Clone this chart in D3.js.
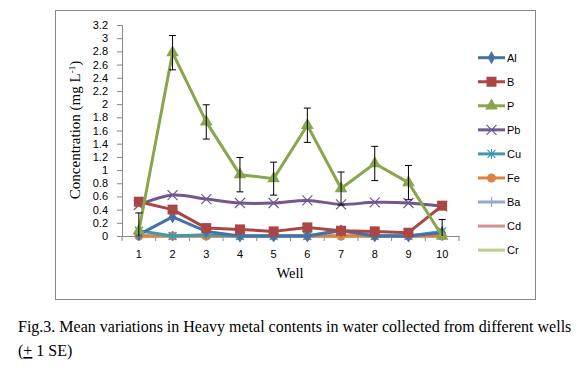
<!DOCTYPE html>
<html><head><meta charset="utf-8">
<script src="https://cdn.jsdelivr.net/npm/d3@7/dist/d3.min.js"></script>
<style>body{margin:0;background:#fff;} svg{display:block;}</style>
</head><body>
<script>
const wells = ["1","2","3","4","5","6","7","8","9","10"];
const seriesNames = ["Al","B","P","Pb","Cu","Fe","Ba","Cd","Cr"];
const Al = [0.02,0.29,0.07,0.0,0.0,0.0,0.08,0.0,0.0,0.05];
const B  = [0.52,0.40,0.12,0.10,0.07,0.13,0.08,0.07,0.05,0.46];
const P  = [0.08,2.78,1.73,0.93,0.87,1.68,0.72,1.10,0.81,0.0];
const Pb = [0.47,0.62,0.56,0.50,0.50,0.54,0.48,0.51,0.50,0.45];
const Cu = [0.08,0.0,0.02,0.0,0.0,0.0,0.09,0.0,0.0,0.07];
const Fe = [0,0,0,0,0,0,0,0,0,0];
const Ba = [0,0,0,0,0,0,0,0,0,0];
const Cd = [0,0,0,0,0,0,0,0,0,0];
const Cr = [0,0,0,0,0,0,0,0,0,0];
const P_se = [0.27,0.26,0.26,0.26,0.25,0.26,0.25,0.26,0.26,0.25];
const yTicks = d3.range(0,3.21,0.2).map(v=>+v.toFixed(1));

const values = {Al,B,P,Pb,Cu,Fe,Ba,Cd,Cr};
const colors = {Al:"#4572A7",B:"#AA4643",P:"#89A54E",Pb:"#71588F",Cu:"#4198AF",Fe:"#DB843D",Ba:"#93A9CF",Cd:"#D19392",Cr:"#B9CD96"};
const markers = {Al:"diamond",B:"square",P:"triangle",Pb:"x",Cu:"star",Fe:"circle",Ba:"plus",Cd:"none",Cr:"none"};

const W=587,H=370;
const svg=d3.select("body").append("svg").attr("width",W).attr("height",H);
svg.append("rect").attr("x",55.5).attr("y",10.5).attr("width",480).attr("height",289).attr("fill","#fff").attr("stroke","#888");

const x=d3.scaleBand().domain(wells).range([122,459]);
const y=d3.scaleLinear().domain([0,3.2]).range([236,25]);
const cx=d=>x(d)+x.bandwidth()/2;

const ya=svg.append("g").attr("transform","translate(122,0)")
  .call(d3.axisLeft(y).tickValues(yTicks).tickSize(5).tickPadding(9).tickFormat(d=>d3.format("~g")(d)));
const xa=svg.append("g").attr("transform","translate(0,236)")
  .call(d3.axisBottom(x).tickSize(0).tickPadding(14));
xa.selectAll(".tick").append("line").attr("x1",x.bandwidth()/2).attr("x2",x.bandwidth()/2).attr("y1",0).attr("y2",5).attr("stroke","#888");
xa.append("line").attr("x1",122).attr("x2",122).attr("y1",0).attr("y2",5).attr("stroke","#888");
[ya,xa].forEach(g=>{
  g.selectAll(".domain").attr("stroke","#888");
  g.selectAll(".tick line").attr("stroke","#888");
  g.selectAll("text").attr("font-family","'Liberation Sans',Arial,sans-serif").attr("font-size","11px").attr("fill","#000");
});

svg.append("text").attr("x",290).attr("y",278).attr("text-anchor","middle")
  .attr("font-family","'Liberation Serif',serif").attr("font-size","14.5px").text("Well");
const yl=svg.append("text").attr("transform","translate(80,130) rotate(-90)").attr("text-anchor","middle")
  .attr("font-family","'Liberation Serif',serif").attr("font-size","15px");
yl.append("tspan").text("Concentration (mg L");
yl.append("tspan").attr("dy",-5).attr("font-size","9px").text("-1");
yl.append("tspan").attr("dy",5).text(")");

function drawMarker(g,type,color,px,py){
  if(type==="diamond") g.append("path").attr("d",d3.symbol(d3.symbolDiamond,50)()).attr("transform",`translate(${px},${py})`).attr("fill",color);
  else if(type==="square") g.append("rect").attr("x",px-5).attr("y",py-5).attr("width",10).attr("height",10).attr("fill",color);
  else if(type==="triangle") g.append("path").attr("d",d3.symbol(d3.symbolTriangle,70)()).attr("transform",`translate(${px},${py})`).attr("fill",color);
  else if(type==="circle") g.append("circle").attr("cx",px).attr("cy",py).attr("r",4.5).attr("fill",color);
  else if(type==="x") g.append("path").attr("d",`M${px-5},${py-5}L${px+5},${py+5}M${px-5},${py+5}L${px+5},${py-5}`).attr("stroke",color).attr("stroke-width",1.2);
  else if(type==="star") g.append("path").attr("d",`M${px-4},${py-4}L${px+4},${py+4}M${px-4},${py+4}L${px+4},${py-4}M${px},${py-5}L${px},${py+5}`).attr("stroke",color).attr("stroke-width",1.2);
  else if(type==="plus") g.append("path").attr("d",`M${px},${py-5}L${px},${py+5}`).attr("stroke",color).attr("stroke-width",1.2);
}

const line=d3.line().x((d,i)=>cx(wells[i])).y(d=>y(d));
["Cr","Cd","Ba","Fe","Cu","Al","Pb","B","P"].forEach(n=>{
  const g=svg.append("g");
  const ln = n==="Pb" ? d3.line().x((d,i)=>cx(wells[i])).y(d=>y(d)).curve(d3.curveCatmullRom.alpha(0.5)) : line;
  g.append("path").datum(values[n]).attr("d",ln).attr("fill","none").attr("stroke",colors[n]).attr("stroke-width",3).attr("stroke-linejoin","round");
  values[n].forEach((v,i)=>drawMarker(g,markers[n],colors[n],cx(wells[i]),y(v)));
});
const eb=svg.append("g").attr("stroke","#000").attr("stroke-width",1);
P.forEach((v,i)=>{
  const px=cx(wells[i]);
  const hi=v+P_se[i], lo=Math.max(0,v-P_se[i]);
  eb.append("line").attr("x1",px).attr("x2",px).attr("y1",y(hi)).attr("y2",y(lo));
  eb.append("line").attr("x1",px-3.5).attr("x2",px+3.5).attr("y1",y(hi)).attr("y2",y(hi));
  if(v-P_se[i]>0) eb.append("line").attr("x1",px-3.5).attr("x2",px+3.5).attr("y1",y(lo)).attr("y2",y(lo));
});

const lg=svg.append("g");
seriesNames.forEach((n,i)=>{
  const ly=57.7+i*24.05;
  lg.append("line").attr("x1",478).attr("x2",505).attr("y1",ly).attr("y2",ly).attr("stroke",colors[n]).attr("stroke-width",3);
  drawMarker(lg,markers[n],colors[n],491.5,ly);
  lg.append("text").attr("x",507).attr("y",ly+4).attr("font-family","'Liberation Sans',Arial,sans-serif").attr("font-size","11px").text(n);
});

const cap=svg.append("text").attr("font-family","'Liberation Serif',serif").attr("font-size","16px").attr("fill","#000");
cap.append("tspan").attr("x",18).attr("y",332).text("Fig.3. Mean variations in Heavy metal contents in water collected from different wells");
const l2=svg.append("text").attr("x",18).attr("y",356).attr("font-family","'Liberation Serif',serif").attr("font-size","16px");
l2.append("tspan").text("(");
l2.append("tspan").attr("text-decoration","underline").text("+");
l2.append("tspan").text(" 1 SE)");
</script>
</body></html>
